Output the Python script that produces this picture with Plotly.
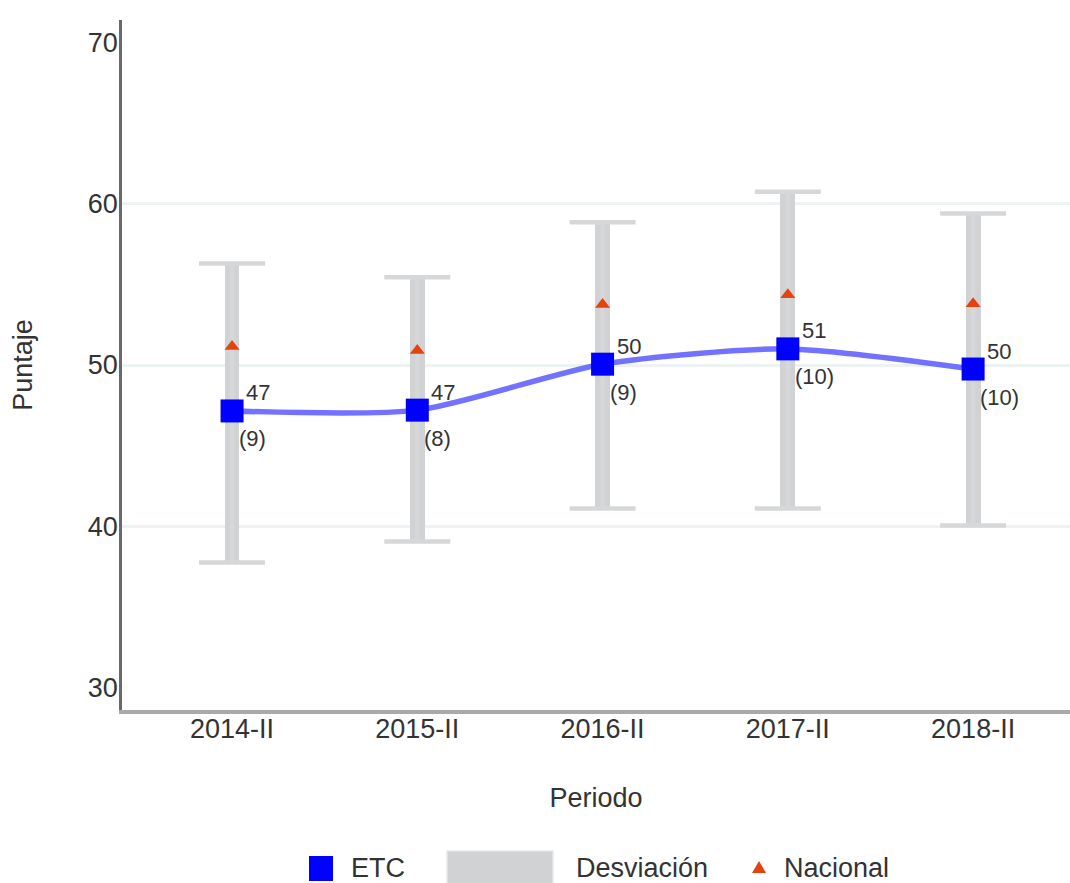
import plotly.graph_objects as go

periods = ["2014-II", "2015-II", "2016-II", "2017-II", "2018-II"]
etc_values = [47.15, 47.2, 50.05, 51.0, 49.75]
etc_labels = ["47", "47", "50", "51", "50"]
n_labels = ["(9)", "(8)", "(9)", "(10)", "(10)"]
dev_upper = [56.3, 55.45, 58.85, 60.75, 59.4]
dev_lower = [37.75, 39.05, 41.1, 41.1, 40.05]
nacional = [51.15, 50.9, 53.75, 54.35, 53.8]
y_ticks = [30, 40, 50, 60, 70]
grid_values = [40, 50, 60]
legend_names = ["ETC", "Desviación", "Nacional"]

FONT = "Liberation Sans, Arial, sans-serif"
TXT = "#333333"
GRAY = "#d1d2d4"
BLUE = "#0000ff"
RED = "#e2430f"

W, H = 1070, 883
ML, MR, MT, MB = 122, 0, 20, 173
PW, PH = W - ML - MR, H - MT - MB


def px(xp):
    return (xp - ML) / PW


def py(yp):
    return (H - MB - yp) / PH


fig = go.Figure()

# deviation stems
fig.add_trace(go.Bar(
    x=periods, y=[u - l for u, l in zip(dev_upper, dev_lower)], base=dev_lower,
    width=0.08, marker=dict(color=GRAY, line=dict(width=0)),
    showlegend=False, hoverinfo="skip"))

# deviation caps
fig.add_trace(go.Scatter(
    x=periods, y=etc_values, mode="markers", marker=dict(size=1, opacity=0),
    error_y=dict(type="data", symmetric=False,
                 array=[u - v for u, v in zip(dev_upper, etc_values)],
                 arrayminus=[v - l for v, l in zip(etc_values, dev_lower)],
                 color="#d6d7d8", thickness=4.5, width=33),
    showlegend=False, hoverinfo="skip"))

# national
fig.add_trace(go.Scatter(
    x=periods, y=nacional, mode="markers",
    marker=dict(symbol="triangle-up", size=13, color=RED),
    showlegend=False))

# ETC line
fig.add_trace(go.Scatter(
    x=periods, y=etc_values, mode="lines+markers",
    line=dict(color="rgba(95,95,255,0.88)", width=5.5, shape="spline", smoothing=0.7),
    marker=dict(symbol="square", size=23, color=BLUE),
    showlegend=False))

# invisible trace on overlay axis (for grid lines)
fig.add_trace(go.Scatter(x=[periods[0]], y=[grid_values[0]], mode="markers",
                         marker=dict(opacity=0), yaxis="y2", showlegend=False,
                         hoverinfo="skip"))

for p, v, lab, n in zip(periods, etc_values, etc_labels, n_labels):
    fig.add_annotation(x=p, y=v, text=lab, showarrow=False, xanchor="left",
                       yanchor="middle", xshift=12, yshift=18,
                       font=dict(family=FONT, size=22, color=TXT))
    fig.add_annotation(x=p, y=v, text=n, showarrow=False, xanchor="left",
                       yanchor="middle", xshift=5, yshift=-28,
                       font=dict(family=FONT, size=22, color=TXT))

# manual legend
ly = 868
shapes = [
    dict(type="rect", xref="paper", yref="paper", x0=px(309), x1=px(333),
         y0=py(881), y1=py(856), fillcolor=BLUE, line=dict(width=0), layer="above"),
    dict(type="rect", xref="paper", yref="paper", x0=px(447), x1=px(553),
         y0=py(884), y1=py(851), fillcolor=GRAY, line=dict(color="#e6e7e8", width=1.5),
         layer="above"),
    dict(type="path", xref="paper", yref="paper",
         path=f"M {px(752)} {py(873)} L {px(766)} {py(873)} L {px(759)} {py(861)} Z",
         fillcolor=RED, line=dict(width=0), layer="above"),
]
for name, xl in zip(legend_names, [349, 574, 782]):
    fig.add_annotation(xref="paper", yref="paper", x=px(xl), y=py(ly), text=name,
                       showarrow=False, xanchor="left", yanchor="middle",
                       font=dict(family=FONT, size=27, color=TXT))

yr = [28.6, 71.4]
fig.update_layout(
    width=W, height=H,
    margin=dict(l=ML, r=MR, t=MT, b=MB),
    paper_bgcolor="white", plot_bgcolor="white",
    font=dict(family=FONT, size=27, color=TXT),
    showlegend=False,
    shapes=shapes,
    xaxis=dict(type="category", range=[-0.594, 4.523], showgrid=False,
               showline=True, linecolor="#a9a9a9", linewidth=4,
               ticks="", tickfont=dict(size=27, color=TXT), ticklabelstandoff=-8,
               title=dict(text="Periodo", standoff=46, font=dict(size=27, color=TXT)),
               zeroline=False),
    yaxis=dict(range=yr, tickvals=y_ticks, showgrid=False, zeroline=False,
               showline=True, linecolor="#6a6a6a", linewidth=2.5,
               ticks="", tickfont=dict(size=27, color=TXT), ticklabelstandoff=-4,
               title=dict(text="Puntaje", standoff=48, font=dict(size=27, color=TXT))),
    yaxis2=dict(range=yr, overlaying="y", tickvals=grid_values, showgrid=True,
                gridcolor="#edf3f3", gridwidth=3, showticklabels=False,
                zeroline=False, showline=False, ticks=""),
    bargap=0,
)

fig.write_html("out.html")
